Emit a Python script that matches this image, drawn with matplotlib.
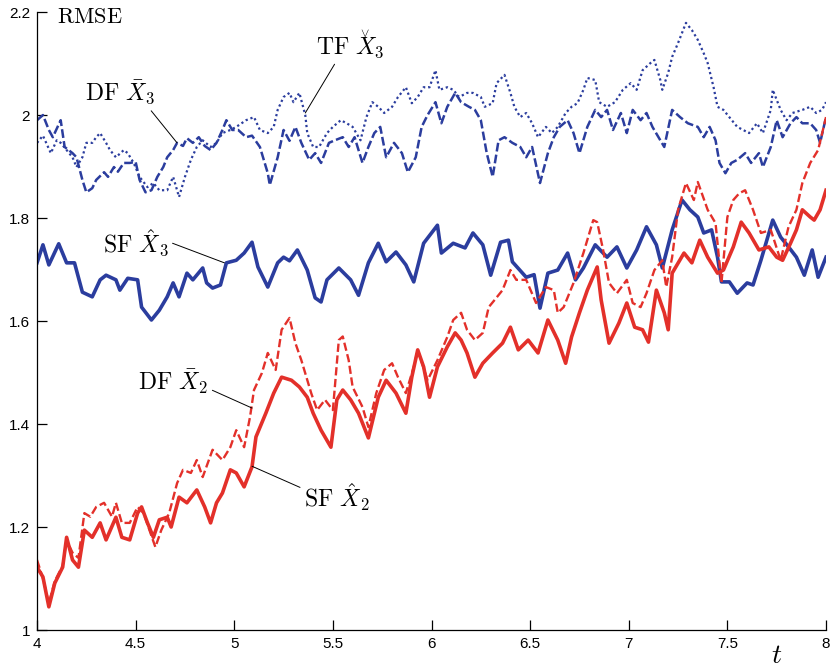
import matplotlib
matplotlib.use("Agg")
import matplotlib.pyplot as plt

# SF X3 (solid blue)
sf3_t = [4.00, 4.03, 4.06, 4.11, 4.15, 4.19, 4.23, 4.28, 4.32, 4.35, 4.40, 4.42, 4.46, 4.51, 4.53,
         4.58, 4.62, 4.66, 4.69, 4.72, 4.76, 4.79, 4.84, 4.86, 4.89, 4.93, 4.96, 5.01, 5.05, 5.09,
         5.12, 5.17, 5.22, 5.25, 5.28, 5.32, 5.37, 5.41, 5.44, 5.47, 5.53, 5.59, 5.63, 5.68, 5.73,
         5.77, 5.82, 5.87, 5.91, 5.96, 6.03, 6.05, 6.11, 6.17, 6.21, 6.26, 6.30, 6.35, 6.39, 6.41,
         6.48, 6.52, 6.55, 6.59, 6.64, 6.69, 6.73, 6.77, 6.83, 6.89, 6.94, 6.99, 7.04, 7.09, 7.14,
         7.17, 7.22, 7.27, 7.31, 7.35, 7.38, 7.42, 7.45, 7.47, 7.51, 7.55, 7.60, 7.63, 7.67, 7.73,
         7.77, 7.81, 7.85, 7.89, 7.93, 7.96, 8.00]
sf3_y = [1.713, 1.748, 1.709, 1.750, 1.713, 1.713, 1.656, 1.647, 1.680, 1.689, 1.680, 1.660, 1.683, 1.680, 1.627,
         1.602, 1.621, 1.647, 1.674, 1.647, 1.693, 1.680, 1.703, 1.674, 1.664, 1.670, 1.713, 1.718, 1.732, 1.753,
         1.705, 1.666, 1.713, 1.724, 1.717, 1.738, 1.699, 1.645, 1.637, 1.680, 1.703, 1.680, 1.650, 1.713, 1.751,
         1.715, 1.734, 1.709, 1.676, 1.751, 1.786, 1.732, 1.751, 1.742, 1.771, 1.748, 1.689, 1.753, 1.757, 1.715,
         1.685, 1.690, 1.625, 1.693, 1.699, 1.732, 1.680, 1.703, 1.748, 1.724, 1.744, 1.703, 1.738, 1.783, 1.748,
         1.703, 1.777, 1.835, 1.816, 1.802, 1.771, 1.777, 1.724, 1.676, 1.676, 1.654, 1.674, 1.670, 1.718, 1.796,
         1.763, 1.744, 1.724, 1.689, 1.738, 1.685, 1.724]

# SF X2 (solid red)
sf2_t = [4.00, 4.03, 4.06, 4.09, 4.13, 4.15, 4.18, 4.21, 4.24, 4.28, 4.32, 4.35, 4.40, 4.43, 4.47,
         4.51, 4.53, 4.56, 4.59, 4.62, 4.66, 4.68, 4.72, 4.76, 4.81, 4.85, 4.88, 4.91, 4.94, 4.98,
         5.01, 5.05, 5.09, 5.11, 5.16, 5.20, 5.24, 5.29, 5.33, 5.37, 5.40, 5.44, 5.49, 5.52, 5.55,
         5.59, 5.63, 5.68, 5.73, 5.77, 5.82, 5.87, 5.90, 5.93, 5.96, 5.99, 6.03, 6.08, 6.12, 6.15,
         6.18, 6.22, 6.26, 6.31, 6.36, 6.40, 6.44, 6.49, 6.54, 6.59, 6.64, 6.68, 6.71, 6.75, 6.79,
         6.84, 6.86, 6.90, 6.95, 6.99, 7.03, 7.07, 7.10, 7.14, 7.18, 7.20, 7.22, 7.28, 7.32, 7.36,
         7.40, 7.45, 7.48, 7.53, 7.57, 7.61, 7.66, 7.71, 7.75, 7.78, 7.82, 7.85, 7.88, 7.92, 7.94,
         7.97, 8.00]
sf2_y = [1.122, 1.103, 1.045, 1.091, 1.122, 1.180, 1.136, 1.122, 1.194, 1.180, 1.208, 1.175, 1.219, 1.180, 1.175,
         1.227, 1.239, 1.208, 1.180, 1.214, 1.219, 1.200, 1.258, 1.247, 1.272, 1.239, 1.208, 1.247, 1.266, 1.311,
         1.305, 1.278, 1.317, 1.375, 1.421, 1.460, 1.491, 1.485, 1.472, 1.452, 1.421, 1.388, 1.355, 1.447, 1.466,
         1.447, 1.421, 1.373, 1.452, 1.485, 1.460, 1.421, 1.491, 1.544, 1.511, 1.452, 1.511, 1.550, 1.577, 1.563,
         1.538, 1.491, 1.518, 1.538, 1.557, 1.588, 1.544, 1.563, 1.538, 1.602, 1.563, 1.518, 1.569, 1.616, 1.660,
         1.705, 1.641, 1.557, 1.596, 1.635, 1.588, 1.583, 1.559, 1.660, 1.616, 1.583, 1.693, 1.732, 1.713, 1.757,
         1.724, 1.693, 1.699, 1.744, 1.792, 1.771, 1.738, 1.744, 1.724, 1.718, 1.751, 1.777, 1.816, 1.802, 1.796,
         1.816, 1.854]

# DF X2 (dashed red)
df2_t = [4.00, 4.03, 4.06, 4.09, 4.13, 4.15, 4.18, 4.21, 4.24, 4.27, 4.30, 4.34, 4.38, 4.40, 4.43,
         4.47, 4.51, 4.54, 4.57, 4.60, 4.63, 4.67, 4.71, 4.74, 4.78, 4.81, 4.84, 4.89, 4.94, 4.98,
         5.01, 5.05, 5.08, 5.10, 5.14, 5.17, 5.21, 5.24, 5.28, 5.31, 5.34, 5.39, 5.42, 5.46, 5.50,
         5.53, 5.55, 5.58, 5.60, 5.65, 5.68, 5.72, 5.76, 5.80, 5.83, 5.87, 5.91, 5.93, 5.98, 6.03,
         6.08, 6.11, 6.15, 6.18, 6.22, 6.26, 6.29, 6.32, 6.36, 6.40, 6.43, 6.48, 6.53, 6.58, 6.62,
         6.64, 6.67, 6.72, 6.77, 6.82, 6.84, 6.87, 6.90, 6.94, 6.99, 7.02, 7.06, 7.09, 7.13, 7.17,
         7.19, 7.22, 7.25, 7.29, 7.33, 7.35, 7.40, 7.44, 7.47, 7.50, 7.53, 7.56, 7.59, 7.63, 7.67,
         7.72, 7.77, 7.81, 7.85, 7.88, 7.92, 7.96, 8.00]
df2_y = [1.136, 1.100, 1.052, 1.095, 1.125, 1.175, 1.150, 1.140, 1.227, 1.220, 1.239, 1.247, 1.220, 1.247, 1.208,
         1.208, 1.239, 1.227, 1.194, 1.161, 1.194, 1.227, 1.285, 1.311, 1.305, 1.330, 1.297, 1.350, 1.330, 1.355,
         1.388, 1.355, 1.414, 1.466, 1.499, 1.538, 1.505, 1.583, 1.606, 1.557, 1.524, 1.460, 1.427, 1.447, 1.427,
         1.563, 1.570, 1.524, 1.472, 1.433, 1.394, 1.460, 1.505, 1.518, 1.491, 1.460, 1.511, 1.544, 1.485, 1.524,
         1.569, 1.602, 1.616, 1.583, 1.563, 1.577, 1.627, 1.641, 1.660, 1.699, 1.680, 1.680, 1.635, 1.666, 1.660,
         1.616, 1.627, 1.674, 1.732, 1.796, 1.792, 1.738, 1.674, 1.654, 1.680, 1.635, 1.627, 1.654, 1.699, 1.718,
         1.666, 1.724, 1.816, 1.868, 1.835, 1.870, 1.816, 1.790, 1.674, 1.802, 1.835, 1.848, 1.854, 1.816, 1.771,
         1.777, 1.718, 1.783, 1.816, 1.868, 1.907, 1.932, 1.996]

# DF X3 (dashed blue)
df3_t = [4.00, 4.03, 4.06, 4.08, 4.12, 4.14, 4.18, 4.20, 4.23, 4.25, 4.28, 4.30, 4.34, 4.36, 4.39,
         4.41, 4.44, 4.47, 4.50, 4.52, 4.55, 4.58, 4.61, 4.64, 4.66, 4.69, 4.71, 4.74, 4.76, 4.79,
         4.82, 4.85, 4.88, 4.91, 4.94, 4.96, 4.99, 5.02, 5.06, 5.09, 5.13, 5.17, 5.18, 5.22, 5.25,
         5.28, 5.31, 5.34, 5.38, 5.41, 5.44, 5.48, 5.51, 5.55, 5.58, 5.61, 5.65, 5.68, 5.71, 5.74,
         5.77, 5.81, 5.85, 5.88, 5.92, 5.95, 5.98, 6.02, 6.05, 6.08, 6.12, 6.15, 6.19, 6.22, 6.25,
         6.28, 6.31, 6.34, 6.37, 6.41, 6.45, 6.48, 6.51, 6.55, 6.59, 6.62, 6.65, 6.69, 6.72, 6.75,
         6.79, 6.83, 6.86, 6.89, 6.92, 6.96, 6.99, 7.02, 7.06, 7.09, 7.12, 7.16, 7.18, 7.22, 7.26,
         7.30, 7.35, 7.38, 7.41, 7.44, 7.46, 7.49, 7.52, 7.55, 7.59, 7.62, 7.66, 7.68, 7.72, 7.75,
         7.78, 7.82, 7.85, 7.88, 7.92, 7.95, 7.97, 8.00]
df3_y = [1.990, 2.000, 1.971, 1.957, 1.990, 1.938, 1.926, 1.918, 1.874, 1.850, 1.858, 1.874, 1.889, 1.880, 1.899,
         1.890, 1.907, 1.907, 1.909, 1.874, 1.850, 1.854, 1.880, 1.899, 1.918, 1.932, 1.946, 1.940, 1.955, 1.946,
         1.957, 1.940, 1.932, 1.946, 1.971, 1.990, 1.971, 1.971, 1.957, 1.960, 1.938, 1.887, 1.864, 1.918, 1.971,
         1.950, 1.977, 1.946, 1.913, 1.926, 1.907, 1.946, 1.951, 1.957, 1.938, 1.957, 1.907, 1.938, 1.965, 1.977,
         1.918, 1.946, 1.926, 1.889, 1.918, 1.977, 2.000, 2.025, 1.984, 2.016, 2.043, 2.025, 2.016, 2.010, 1.990,
         1.926, 1.880, 1.951, 1.957, 1.946, 1.938, 1.918, 1.938, 1.868, 1.926, 1.957, 1.977, 1.990, 1.965, 1.926,
         1.977, 2.010, 1.996, 2.010, 1.971, 2.004, 1.965, 2.010, 1.990, 2.004, 1.977, 1.951, 1.938, 2.010, 1.996,
         1.984, 1.977, 1.957, 1.977, 1.951, 1.907, 1.887, 1.907, 1.913, 1.926, 1.907, 1.926, 1.899, 1.938, 1.990,
         1.957, 1.984, 1.996, 1.984, 1.984, 1.971, 1.946, 1.996]

# TF X3 (dotted blue)
tf3_t = [4.00, 4.03, 4.07, 4.10, 4.12, 4.15, 4.18, 4.20, 4.23, 4.25, 4.28, 4.30, 4.32, 4.35, 4.37,
         4.40, 4.44, 4.46, 4.49, 4.52, 4.56, 4.59, 4.62, 4.66, 4.69, 4.72, 4.75, 4.78, 4.81, 4.84,
         4.88, 4.91, 4.94, 4.98, 5.01, 5.06, 5.10, 5.13, 5.17, 5.20, 5.22, 5.25, 5.28, 5.30, 5.33,
         5.36, 5.37, 5.40, 5.43, 5.47, 5.50, 5.54, 5.57, 5.60, 5.64, 5.67, 5.70, 5.73, 5.76, 5.80,
         5.83, 5.87, 5.90, 5.93, 5.96, 5.99, 6.02, 6.04, 6.08, 6.11, 6.14, 6.18, 6.21, 6.25, 6.27,
         6.31, 6.33, 6.37, 6.40, 6.42, 6.45, 6.48, 6.51, 6.54, 6.58, 6.61, 6.64, 6.68, 6.71, 6.74,
         6.77, 6.79, 6.83, 6.85, 6.89, 6.93, 6.97, 7.01, 7.04, 7.07, 7.11, 7.13, 7.16, 7.17, 7.20,
         7.22, 7.25, 7.29, 7.32, 7.35, 7.38, 7.40, 7.43, 7.45, 7.48, 7.51, 7.55, 7.58, 7.61, 7.65,
         7.68, 7.72, 7.73, 7.77, 7.80, 7.83, 7.88, 7.92, 7.95, 7.98, 8.00]
tf3_y = [1.946, 1.960, 1.926, 1.951, 1.946, 1.932, 1.918, 1.899, 1.918, 1.946, 1.946, 1.957, 1.965, 1.946, 1.932,
         1.918, 1.932, 1.926, 1.907, 1.880, 1.860, 1.868, 1.854, 1.854, 1.880, 1.841, 1.880, 1.913, 1.938, 1.951,
         1.938, 1.946, 1.965, 1.971, 1.977, 1.990, 1.996, 1.971, 1.965, 1.977, 2.010, 2.035, 2.043, 2.025, 2.043,
         2.000, 1.965, 1.938, 1.938, 1.965, 1.977, 1.990, 1.984, 1.977, 1.951, 1.996, 2.025, 2.016, 2.004, 2.016,
         2.035, 2.054, 2.023, 2.035, 2.054, 2.054, 2.087, 2.049, 2.054, 2.049, 2.035, 2.043, 2.043, 2.035, 2.016,
         2.023, 2.062, 2.078, 2.043, 2.016, 1.996, 2.004, 1.984, 1.957, 1.977, 1.965, 1.977, 2.004, 2.016, 2.023,
         2.049, 2.072, 2.068, 2.025, 2.016, 2.025, 2.049, 2.062, 2.049, 2.087, 2.101, 2.107, 2.068, 2.049, 2.082,
         2.113, 2.140, 2.179, 2.165, 2.146, 2.120, 2.101, 2.054, 2.016, 2.010, 1.996, 1.977, 1.971, 1.965, 1.984,
         1.965, 2.010, 2.049, 2.010, 1.990, 2.004, 2.010, 2.016, 2.004, 2.010, 2.025]

x_ticks = [4, 4.5, 5, 5.5, 6, 6.5, 7, 7.5, 8]
x_labels = ["4", "4.5", "5", "5.5", "6", "6.5", "7", "7.5", "8"]
y_ticks = [1, 1.2, 1.4, 1.6, 1.8, 2, 2.2]
y_labels = ["1", "1.2", "1.4", "1.6", "1.8", "2", "2.2"]

BLUE = "#2b3d9e"
RED = "#e3302a"

plt.rcParams["mathtext.fontset"] = "cm"
plt.rcParams["font.family"] = ["Liberation Sans", "DejaVu Sans"]

fig = plt.figure(figsize=(8.32, 6.70), dpi=100)
ax = fig.add_axes([0.0445, 0.0597, 0.9483, 0.9223])

ax.plot(df3_t, df3_y, color=BLUE, lw=1.8, linestyle=(0, (3.5, 1.3)))
ax.plot(tf3_t, tf3_y, color=BLUE, lw=1.6, linestyle=(0, (1.0, 1.3)))
ax.plot(sf3_t, sf3_y, color=BLUE, lw=2.6)
ax.plot(df2_t, df2_y, color=RED, lw=1.7, linestyle=(0, (3.5, 1.5)))
ax.plot(sf2_t, sf2_y, color=RED, lw=2.6)

ax.set_xlim(4, 8)
ax.set_ylim(1, 2.2)
ax.set_xticks(x_ticks)
ax.set_xticklabels(x_labels)
ax.set_yticks(y_ticks)
ax.set_yticklabels(y_labels)
ax.tick_params(direction="in", length=7, width=0.9, labelsize=11, pad=5)
ax.spines["top"].set_visible(False)
ax.spines["right"].set_visible(False)
for s in ("left", "bottom"):
    ax.spines[s].set_linewidth(0.9)

lbl = dict(fontsize=17)
line = dict(arrowstyle="-", color="black", lw=0.7, shrinkA=1, shrinkB=0)

ax.text(4.1, 2.19, r"$\mathrm{RMSE}$", ha="left", va="center", fontsize=16)

ax.annotate(r"$\mathrm{DF}\ \bar{X}_3$", xy=(4.71, 1.946), xytext=(4.42, 2.043),
            ha="center", va="center", arrowprops=dict(relpos=(0.9, 0.0), **line), **lbl)
tf_lbl = ax.annotate(r"$\mathrm{TF}\ X_3$", xy=(5.36, 2.004), xytext=(5.59, 2.13),
                     ha="center", va="center", arrowprops=dict(relpos=(0.3, 0.0), **line), **lbl)
# check accent over the X (mathtext cm places \check badly)
ax.annotate(r"$\vee$", xy=(0.75, 1.03), xycoords=tf_lbl, ha="center", va="center", fontsize=9)
ax.annotate(r"$\mathrm{SF}\ \hat{X}_3$", xy=(4.95, 1.713), xytext=(4.50, 1.751),
            ha="center", va="center", arrowprops=dict(relpos=(1.0, 0.55), **line), **lbl)
ax.annotate(r"$\mathrm{DF}\ \bar{X}_2$", xy=(5.09, 1.431), xytext=(4.69, 1.483),
            ha="center", va="center", arrowprops=dict(relpos=(1.0, 0.25), **line), **lbl)
ax.annotate(r"$\mathrm{SF}\ \hat{X}_2$", xy=(5.09, 1.318), xytext=(5.52, 1.258),
            ha="center", va="center", arrowprops=dict(relpos=(0.0, 0.75), **line), **lbl)

ax.text(0.938, -0.042, r"$t$", transform=ax.transAxes, ha="center", va="center", fontsize=20)

fig.savefig("out.png", dpi=100)
